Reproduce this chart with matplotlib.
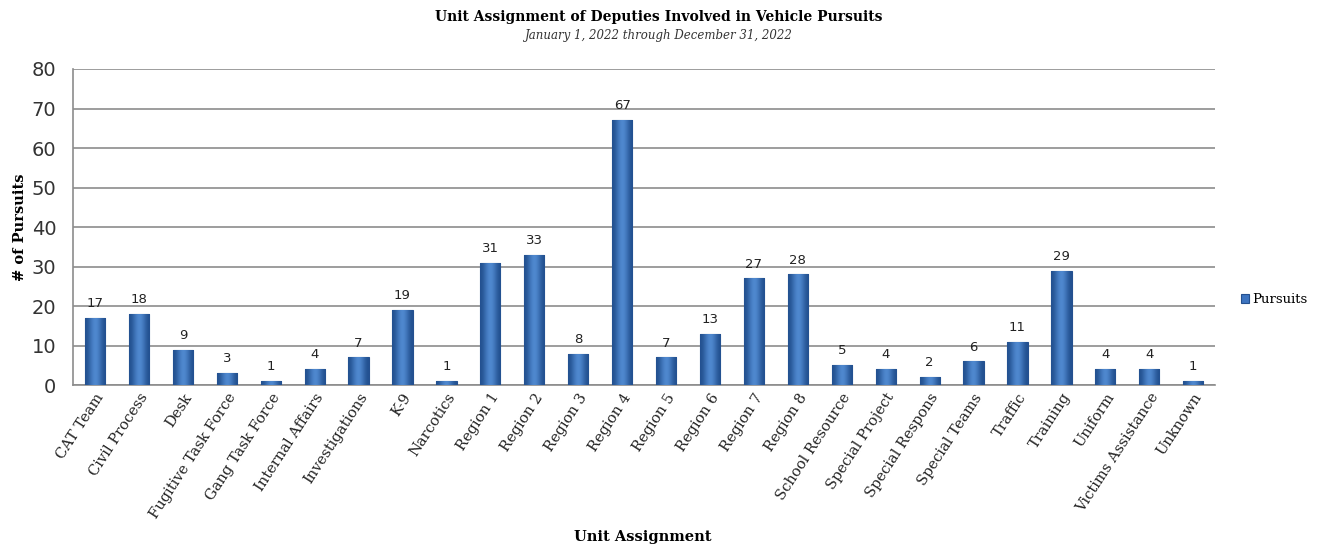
import matplotlib
matplotlib.use('Agg')
from matplotlib import pyplot as plt
import numpy as np

units = ['CAT Team', 'Civil Process', 'Desk', 'Fugitive Task Force', 'Gang Task Force',
         'Internal Affairs', 'Investigations', 'K-9', 'Narcotics', 'Region 1', 'Region 2',
         'Region 3', 'Region 4', 'Region 5', 'Region 6', 'Region 7', 'Region 8',
         'School Resource', 'Special Project', 'Special Respons', 'Special Teams',
         'Traffic', 'Training', 'Uniform', 'Victims Assistance', 'Unknown']
pursuits = [17, 18, 9, 3, 1, 4, 7, 19, 1, 31, 33, 8, 67, 7, 13, 27, 28, 5, 4, 2, 6, 11, 29, 4, 4, 1]

serif = 'DejaVu Serif'
sans = 'DejaVu Sans'

fig = plt.figure(figsize=(13.18, 5.51), dpi=100)
ax = fig.add_axes([0.0554, 0.301, 0.8666, 0.5738])

x = np.arange(len(units))
bars = ax.bar(x, pursuits, width=0.46, color='#3d74c0', edgecolor='#24508f',
              linewidth=0.8, label='Pursuits', zorder=3)

# horizontal shading across each bar: dark edges, lighter middle
grad = np.array([[0.0, 0.6, 1.0, 0.6, 0.0]])
cmap = matplotlib.colors.LinearSegmentedColormap.from_list('b', ['#22508f', '#5590d8'])
for b in bars:
    bx, by, bw, bh = b.get_x(), b.get_y(), b.get_width(), b.get_height()
    im = ax.imshow(grad, extent=[bx, bx + bw, by, by + bh], aspect='auto',
                   cmap=cmap, interpolation='bicubic', zorder=3.5)
    im.set_clip_path(b)

for xi, v in zip(x, pursuits):
    ax.text(xi, v + 2.0, str(v), ha='center', va='bottom', fontsize=9.5,
            family=sans, color='#222222')

ax.set_xlim(-0.5, len(units) - 0.5)
ax.set_ylim(0, 80)
ax.set_yticks(range(0, 81, 10))
ax.yaxis.grid(True, color='#8c8c8c', linewidth=1.2, zorder=0)
ax.set_axisbelow(True)
for s in ['top', 'right']:
    ax.spines[s].set_visible(False)
ax.spines['left'].set_color('#8c8c8c')
ax.spines['bottom'].set_color('#8c8c8c')
ax.spines['left'].set_linewidth(1.2)
ax.spines['bottom'].set_linewidth(1.2)
ax.tick_params(axis='y', length=0, labelsize=14, pad=12, labelcolor='#333333')
ax.tick_params(axis='x', length=0, pad=4)
ax.set_xticks(x)
ax.set_xticklabels(units, rotation=57, ha='right', rotation_mode='anchor',
                   fontsize=10.5, family=serif, color='#222222')
for t in ax.get_yticklabels():
    t.set_family(sans)

ax.set_ylabel('# of Pursuits', fontsize=10.5, family=serif, fontweight='bold', labelpad=3)
fig.text(0.488, 0.018, 'Unit Assignment', ha='center', fontsize=10.5, family=serif,
         fontweight='bold')
fig.text(0.5, 0.962, 'Unit Assignment of Deputies Involved in Vehicle Pursuits',
         ha='center', fontsize=10, family=serif, fontweight='bold')
fig.text(0.5, 0.93, 'January 1, 2022 through December 31, 2022', ha='center',
         fontsize=8.5, family=serif, style='italic', color='#333333')

leg = ax.legend(loc='center left', bbox_to_anchor=(1.012, 0.27), frameon=False,
                prop={'family': serif, 'size': 9.5}, handlelength=0.6, handleheight=0.6,
                handletextpad=0.3)

fig.savefig('out.png', dpi=100)
